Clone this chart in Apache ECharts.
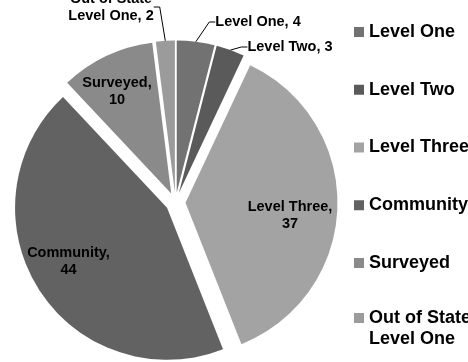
<!DOCTYPE html>
<html><head><meta charset="utf-8">
<script src="https://cdn.jsdelivr.net/npm/echarts@6/dist/echarts.min.js"></script>
<style>html,body{margin:0;padding:0;background:#fff}#c{width:468px;height:362px}</style>
</head><body><div id="c"></div>
<script>
// ---- data ----
const categories = ['Level One', 'Level Two', 'Level Three', 'Community', 'Surveyed', 'Out of State Level One'];
const values = [4, 3, 37, 44, 10, 2];

// ---- styling / layout (not data) ----
const colors = ['#727272', '#5a5a5a', '#a3a3a3', '#626262', '#8a8a8a', '#9b9b9b'];
const outsideIdx = [0, 1, 5];
const labelPos = [[258, 22], [290, 47], [290, 215], [68.5, 261.5], [117, 91], [111, 7]];
const FONT = '"Liberation Sans", Arial, sans-serif';
const CENTER = [175.5, 202.5];

function wrapName(n) { return n.replace('Out of State ', 'Out of State\n'); }

const chart = echarts.init(document.getElementById('c'), null, { renderer: 'canvas' });
chart.setOption({
  animation: false,
  backgroundColor: '#fff',
  legend: [
    {
      orient: 'vertical', left: 354, top: 22, padding: 0,
      itemWidth: 10, itemHeight: 10, itemGap: 37.75, icon: 'rect',
      selectedMode: false,
      data: categories.slice(0, 5),
      textStyle: { fontFamily: FONT, fontWeight: 'bold', fontSize: 18, lineHeight: 20, color: '#000' }
    },
    {
      orient: 'vertical', left: 354, top: 286.5, padding: 0,
      itemWidth: 10, itemHeight: 10, icon: 'rect',
      selectedMode: false,
      data: categories.slice(5),
      // leading blank line keeps the icon level with the first text line
      formatter: n => '\n' + wrapName(n),
      textStyle: { fontFamily: FONT, fontWeight: 'bold', fontSize: 18, lineHeight: 21, color: '#000' }
    }
  ],
  series: [
    {
      // exploded pie (every slice pulled out)
      type: 'pie',
      center: CENTER,
      radius: 152,
      startAngle: 90,
      clockwise: true,
      selectedMode: 'multiple',
      selectedOffset: 10,
      select: { itemStyle: { borderWidth: 0 } },
      emphasis: { disabled: true },
      itemStyle: { borderWidth: 0 },
      label: { show: false },
      labelLine: { show: false },
      data: categories.map((n, i) => ({ name: n, value: values[i], selected: true, itemStyle: { color: colors[i] } }))
    },
    {
      // label carrier (same values, transparent sectors)
      type: 'pie',
      center: CENTER,
      radius: 162,
      startAngle: 90,
      clockwise: true,
      silent: true,
      emphasis: { disabled: true },
      itemStyle: { color: 'rgba(0,0,0,0)', borderWidth: 0 },
      label: {
        fontFamily: FONT, fontWeight: 'bold', fontSize: 14.5, lineHeight: 17, color: '#000', align: 'center',
        formatter: p => outsideIdx.includes(p.dataIndex)
          ? wrapName(p.name) + ', ' + p.value
          : p.name + ',\n' + p.value
      },
      labelLine: { lineStyle: { color: '#000', width: 1 }, length: 12, length2: 6 },
      labelLayout: function (p) {
        const pos = labelPos[p.dataIndex];
        return { x: pos[0], y: pos[1], align: 'center', verticalAlign: 'middle' };
      },
      data: categories.map((n, i) => ({
        name: n, value: values[i],
        label: { position: outsideIdx.includes(i) ? 'outside' : 'inside' },
        labelLine: { show: outsideIdx.includes(i) }
      }))
    }
  ]
});
</script>
</body></html>
